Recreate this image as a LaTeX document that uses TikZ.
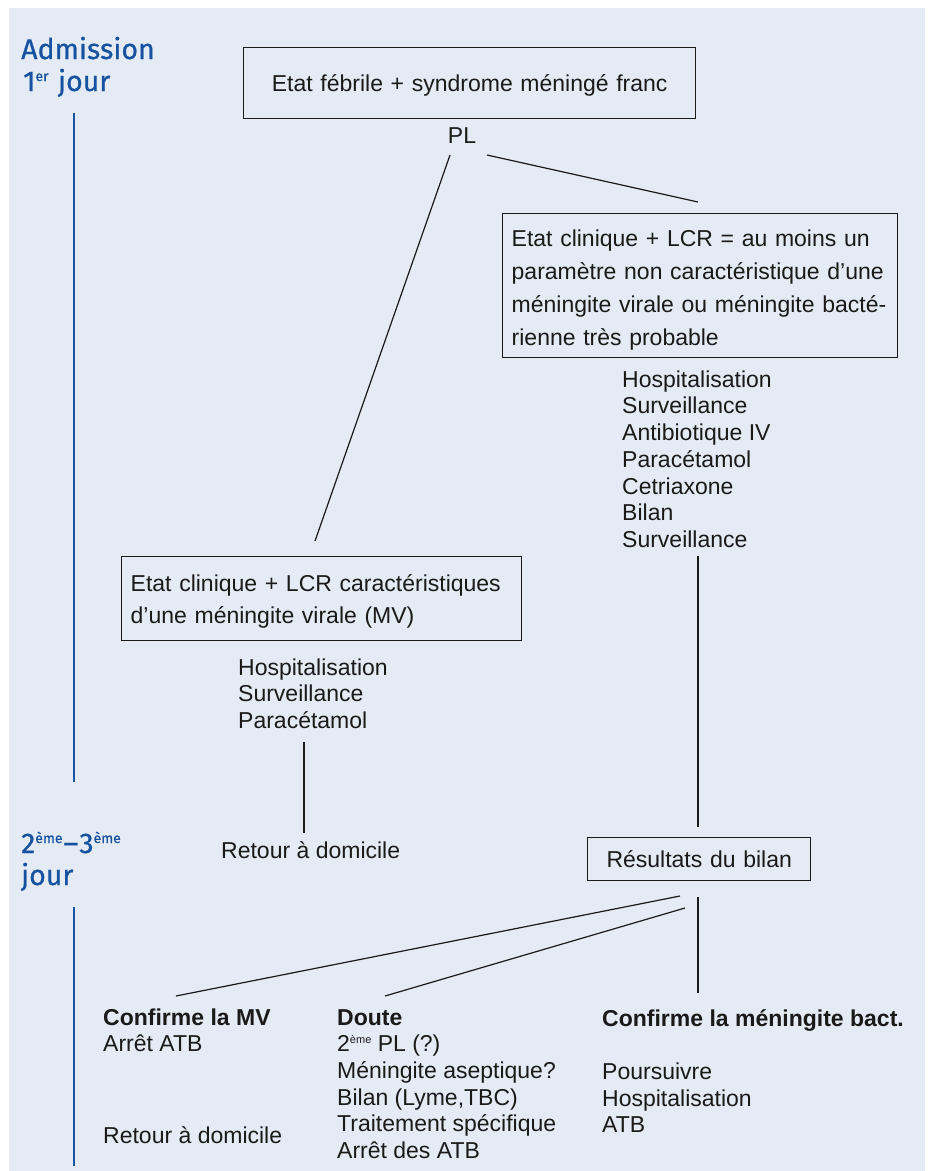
\documentclass[tikz,border=0pt]{standalone}
\usepackage{fontspec}
\setmainfont{Liberation Sans}
\newfontfamily\headfont[FakeBold=0.7]{Fira Sans}
\definecolor{bgblue}{HTML}{E4EBF4}
\definecolor{headblue}{HTML}{1652A0}
\definecolor{inkc}{HTML}{1A1A1A}
\newcommand\hsup[1]{\raisebox{10pt}{\fontsize{14}{14}\selectfont #1}}
\newcommand\bsup[1]{\raisebox{8pt}{\fontsize{11}{11}\selectfont #1}}
\begin{document}
\begin{tikzpicture}[x=1pt,y=-1pt,
  txt/.style={inner sep=0pt, text=inkc, font=\fontsize{23}{26.6}\selectfont, align=left},
  box/.style={draw=inkc, line width=1.4pt, inner xsep=9pt, inner ysep=0pt, text=inkc, align=left, font=\fontsize{23}{33}\selectfont},
  conn/.style={draw=inkc, line width=1.2pt},
  head/.style={inner sep=0pt, text=headblue, font=\headfont\fontsize{28.5}{32}\selectfont, anchor=base west},
  tl/.style={draw=headblue, line width=2.6pt}]
\useasboundingbox (0,0) rectangle (928,1171);
\fill[bgblue] (9,8) rectangle (925,1171);

% time headings
\node[head] (h1) at (21,59) {Admission};
\node[head] (h1b) at (23,91) {1\hsup{er}\hspace{2pt} jour};
\node[head] (h2) at (21,853) {2\hsup{ème}\hspace{1pt}–\hspace{1pt}3\hsup{ème}};
\node[head] (h2b) at (21,885) {jour};
\coordinate (t1a) at (74,113); \coordinate (t1b) at (74,782);
\coordinate (t2a) at (74,907); \coordinate (t2b) at (74,1166);
\draw[tl] (t1a) -- (t1b);
\draw[tl] (t2a) -- (t2b);

% boxes
\node[box, anchor=north west, text width=434pt, align=center] (start) at (243,47)
  {\rule{0pt}{44pt}Etat fébrile + syndrome méningé franc\rule[-27pt]{0pt}{27pt}};
\node[txt, anchor=base] (pl) at (462,143) {PL};
\node[box, anchor=north west, text width=377pt] (bact) at (502,213)
  {\rule{0pt}{33pt}Etat clinique + LCR = au moins un\\paramètre non caractéristique d’une\\méningite virale ou méningite bacté-\\rienne très probable\rule[-12pt]{0pt}{12pt}};
\node[txt, anchor=north west, font=\fontsize{23}{26.7}\selectfont] (bactlist) at (622,367)
  {\rule{0pt}{20pt}Hospitalisation\\Surveillance\\Antibiotique IV\\Paracétamol\\Cetriaxone\\Bilan\\Surveillance};
\node[box, anchor=north west, text width=382pt, font=\fontsize{23}{32}\selectfont] (viral) at (121,556)
  {\rule{0pt}{35pt}Etat clinique + LCR caractéristiques\\d’une méningite virale (MV)\rule[-17pt]{0pt}{17pt}};
\node[txt, anchor=north west, font=\fontsize{23}{26.5}\selectfont] (mvlist) at (238,655)
  {\rule{0pt}{20pt}Hospitalisation\\Surveillance\\Paracétamol};
\node[txt, anchor=base west] (home1) at (221,858) {Retour à domicile};
\node[box, anchor=north west, text width=205pt, align=center] (res) at (587,837)
  {\rule{0pt}{30pt}Résultats du bilan\rule[-13pt]{0pt}{13pt}};

% outcomes
\node[txt, anchor=north west, font=\fontsize{23}{26}\selectfont] (cmv) at (103,1005)
  {\rule{0pt}{20pt}\textbf{Confirme la MV}\\Arrêt ATB};
\node[txt, anchor=base west] (home2) at (103,1143) {Retour à domicile};
\node[txt, anchor=north west] (doubt) at (337,1005)
  {\rule{0pt}{20pt}\textbf{Doute}\\2\bsup{ème} PL (?)\\Méningite aseptique?\\Bilan (Lyme,TBC)\\Traitement spécifique\\Arrêt des ATB};
\node[txt, anchor=north west] (cb) at (602,1006)
  {\rule{0pt}{20pt}\textbf{Confirme la méningite bact.}\\[26.6pt]Poursuivre\\Hospitalisation\\ATB};

% connector ends
\coordinate (plL) at (450,155); \coordinate (viralTop) at (315,541);
\coordinate (plR) at (487,155); \coordinate (bactTop) at (698,202);
\coordinate (bactListEnd) at (698,556); \coordinate (resTop) at (698,827);
\coordinate (mvListEnd) at (304,742); \coordinate (home1Top) at (304,833);
\coordinate (resA) at (680,896); \coordinate (cmvTop) at (176,996);
\coordinate (resB) at (685,908); \coordinate (doubtTop) at (385,996);
\coordinate (resC) at (698,897); \coordinate (cbTop) at (698,993);

\draw[conn] (plL) -- (viralTop);
\draw[conn] (plR) -- (bactTop);
\draw[conn] (bactListEnd) -- (resTop);
\draw[conn] (mvListEnd) -- (home1Top);
\draw[conn] (resA) -- (cmvTop);
\draw[conn] (resB) -- (doubtTop);
\draw[conn] (resC) -- (cbTop);
\end{tikzpicture}
\end{document}
